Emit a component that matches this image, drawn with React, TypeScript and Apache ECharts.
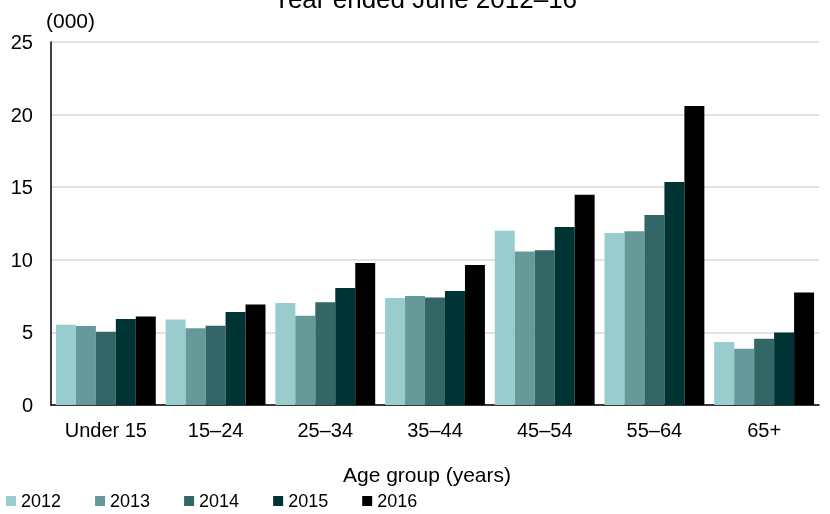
import React, { useEffect, useRef } from "react";
import * as echarts from "echarts";

const categories = ["Under 15", "15–24", "25–34", "35–44", "45–54", "55–64", "65+"];
const years = ["2012", "2013", "2014", "2015", "2016"];
const v2012 = [5.53, 5.88, 7.02, 7.37, 12.0, 11.85, 4.34];
const v2013 = [5.44, 5.28, 6.15, 7.5, 10.58, 11.96, 3.88];
const v2014 = [5.05, 5.46, 7.08, 7.4, 10.65, 13.08, 4.57];
const v2015 = [5.92, 6.4, 8.05, 7.85, 12.26, 15.36, 5.0];
const v2016 = [6.1, 6.93, 9.78, 9.64, 14.48, 20.6, 7.74];
const seriesValues = [v2012, v2013, v2014, v2015, v2016];
const colors = ["#99cccc", "#669999", "#336666", "#003333", "#000000"];

const FONT = "'Liberation Sans', Arial, sans-serif";

export default function App() {
  const ref = useRef<HTMLDivElement>(null);
  useEffect(() => {
    if (!ref.current) return;
    const chart = echarts.init(ref.current, null, { renderer: "svg" });
    chart.setOption({
      animation: false,
      title: {
        text: "Year ended June 2012–16",
        left: 420,
        textAlign: "center",
        top: -19,
        textStyle: { fontFamily: FONT, fontSize: 26, fontWeight: "normal", color: "#000" },
      },
      legend: {
        data: years,
        left: 6,
        top: 492,
        padding: 0,
        itemWidth: 10,
        itemHeight: 10,
        itemGap: 34,
        icon: "rect",
        textStyle: { fontFamily: FONT, fontSize: 18, color: "#000" },
      },
      grid: { left: 51, right: 11, top: 42, bottom: 109, containLabel: false },
      xAxis: {
        type: "category",
        data: categories,
        axisLine: { show: true, lineStyle: { color: "#000", width: 1.5 } },
        axisTick: { show: false },
        axisLabel: { fontFamily: FONT, fontSize: 20, color: "#000", margin: 15 },
      },
      yAxis: {
        type: "value",
        min: 0,
        max: 25,
        interval: 5,
        axisLine: { show: true, lineStyle: { color: "#000", width: 1.5 } },
        axisTick: { show: false },
        axisLabel: { fontFamily: FONT, fontSize: 20, color: "#000", margin: 18 },
        splitLine: { show: true, lineStyle: { color: "#d9d9d9", width: 1.5 } },
      },
      graphic: [
        {
          type: "text",
          left: 46,
          top: 10,
          style: { text: "(000)", fontFamily: FONT, fontSize: 21, fill: "#000" },
        },
        {
          type: "text",
          x: 427,
          y: 474,
          style: {
            text: "Age group (years)",
            fontFamily: FONT,
            fontSize: 21,
            fill: "#000",
            align: "center",
            verticalAlign: "middle",
          },
        },
      ],
      series: years.map((y, i) => ({
        name: y,
        type: "bar",
        data: seriesValues[i],
        barGap: "0%",
        barCategoryGap: "9%",
        itemStyle: { color: colors[i] },
      })),
    });
    return () => chart.dispose();
  }, []);
  return <div ref={ref} style={{ position: "fixed", left: 0, top: 0, width: 830, height: 514 }} />;
}
